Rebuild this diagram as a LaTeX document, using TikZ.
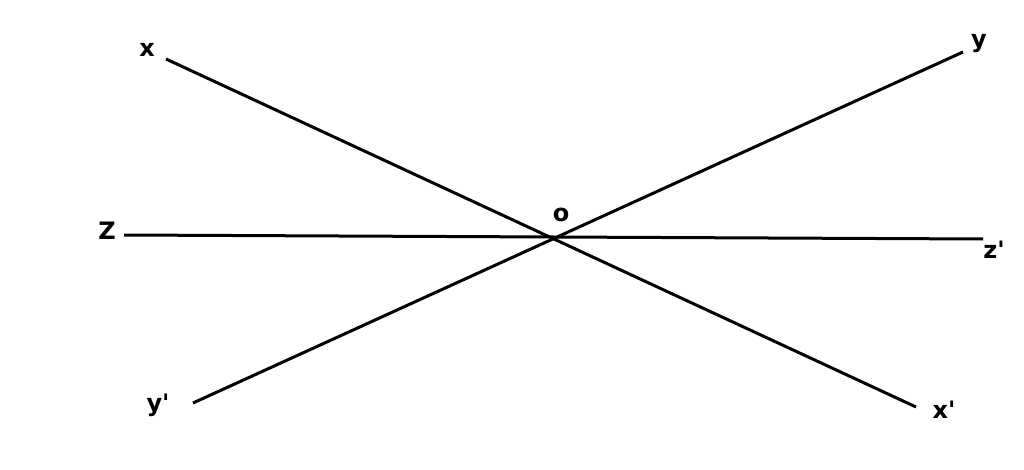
\documentclass[tikz,border=0pt]{standalone}
\usepackage{fontspec}
\setmainfont{DejaVu Sans}
\usepackage{tikz}
\usetikzlibrary{positioning}

\begin{document}
\begin{tikzpicture}[
    x=1pt, y=-1pt,
    ray/.style={line width=3pt},
    lbl/.style={inner sep=0pt, font=\fontsize{24}{28}\selectfont\bfseries}
]
\useasboundingbox (0,0) rectangle (1024,470);

% End points of the three lines
\coordinate (xs) at (166,59);
\coordinate (xe) at (916,407);
\coordinate (ys) at (193,403);
\coordinate (ye) at (963,52);
\coordinate (zs) at (124,235);
\coordinate (ze) at (983,239);
\coordinate (o) at (554,238);

% Lines through O
\draw[ray] (xs) -- (xe);
\draw[ray] (ys) -- (ye);
\draw[ray] (zs) -- (ze);

% Labels
\node[lbl] (lx) at (147,50) {x};
\node[lbl] (lxp) at (944,410) {x\textquotesingle};
\node[lbl] (ly) at (979,44) {y};
\node[lbl] (lyp) at (158,405) {y\textquotesingle};
\node[lbl] (lz) at (107,231) {Z};
\node[lbl] (lzp) at (994,250) {z\textquotesingle};
\node[lbl] (lo) at (561,215) {o};

\end{tikzpicture}
\end{document}
